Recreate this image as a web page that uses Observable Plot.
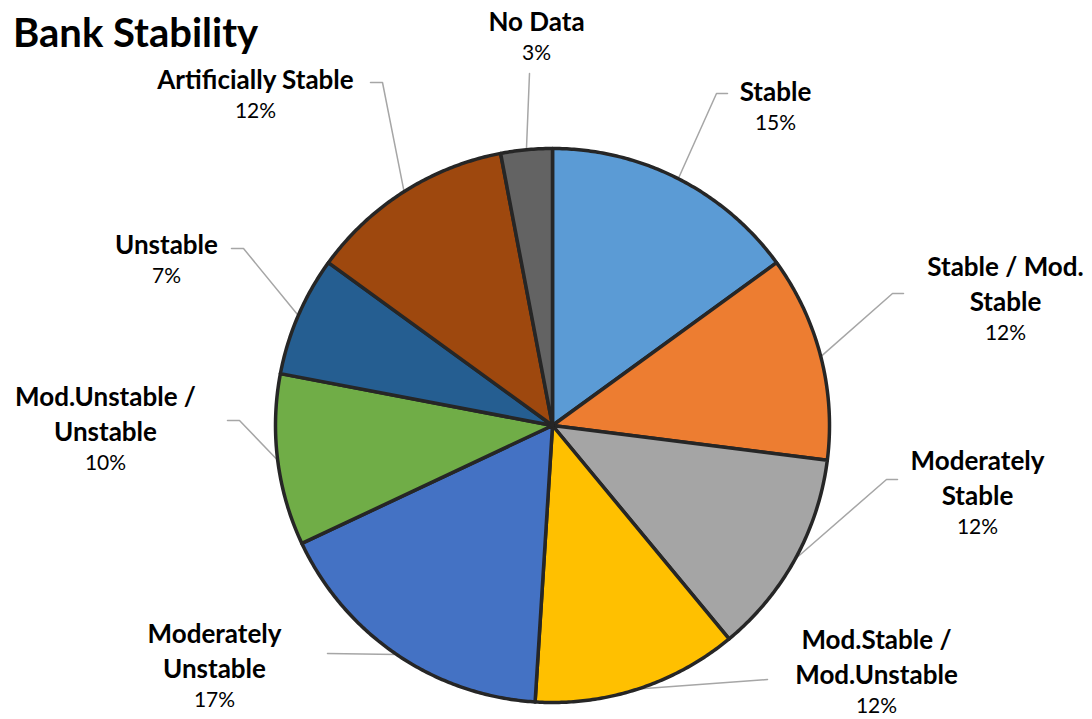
<!DOCTYPE html>
<html>
<head>
<meta charset="utf-8">
<script src="https://cdn.jsdelivr.net/npm/d3@7"></script>
<script src="https://cdn.jsdelivr.net/npm/@observablehq/plot@0.6"></script>
<style>
  html, body { margin: 0; padding: 0; background: #fff; }
  #chart { position: relative; width: 1092px; height: 719px; }
  #title {
    position: absolute; left: 13px; top: 12px; margin: 0;
    font: bold 40px/40px Lato, "Open Sans", sans-serif; color: #000;
  }
</style>
</head>
<body>
<div id="chart">
  <h1 id="title">Bank Stability</h1>
</div>
<script>
// Share of banks by stability rating (percent), clockwise from 12 o'clock
const categories = [
  "Stable",
  "Stable / Mod.\nStable",
  "Moderately\nStable",
  "Mod.Stable /\nMod.Unstable",
  "Moderately\nUnstable",
  "Mod.Unstable /\nUnstable",
  "Unstable",
  "Artificially Stable",
  "No Data"
];
const shares = [15, 12, 12, 12, 17, 10, 7, 12, 3];
const colors = ["#5b9bd5", "#ed7d31", "#a5a5a5", "#ffc000", "#4472c4", "#70ad47", "#255e91", "#9e480e", "#636363"];

// Label placement: centre of the label block, where its leader line ends, and whether it bends
const labelLayout = [
  {x: 775,  y: 92,  end: [727, 93],  elbow: true},
  {x: 1005, y: 267, end: [903, 293], elbow: true},
  {x: 977,  y: 461, end: [897, 479], elbow: true},
  {x: 876,  y: 640, end: [767, 679], elbow: false},
  {x: 214,  y: 634, end: [327, 653], elbow: false},
  {x: 105,  y: 397, end: [227, 420], elbow: true},
  {x: 166,  y: 245, end: [231, 248], elbow: true},
  {x: 255,  y: 80,  end: [370, 82],  elbow: true},
  {x: 536,  y: 22,  end: [529, 73],  elbow: false}
];

const W = 1092, H = 719;
const cx = 552, cy = 425, r = 277;
const nameLine = 35, pctGap = 33;

const rows = categories.map((c, i) => ({name: c, value: shares[i], color: colors[i], i}));
const arcs = d3.pie().sort(null).value(d => d.value)(rows);

// point on the pie at angle a (radians, clockwise from top) and radius rr
const at = (a, rr) => [cx + rr * Math.sin(a), cy - rr * Math.cos(a)];

// slice outlines as closed polygons: centre → arc → centre
const slicePts = [];
for (const a of arcs) {
  const n = Math.max(4, Math.ceil((a.endAngle - a.startAngle) / (Math.PI / 360)));
  slicePts.push({k: a.data.i, p: [cx, cy]});
  for (let j = 0; j <= n; j++) {
    const t = a.startAngle + (a.endAngle - a.startAngle) * j / n;
    slicePts.push({k: a.data.i, p: at(t, r)});
  }
  slicePts.push({k: a.data.i, p: [cx, cy]});
}

// leader lines: arc midpoint → (elbow) → label
const leaderPts = [];
arcs.forEach((a, i) => {
  const L = labelLayout[i];
  const mid = at((a.startAngle + a.endAngle) / 2, r);
  leaderPts.push({k: i, p: mid});
  if (L.elbow) leaderPts.push({k: i, p: [L.end[0] + (L.end[0] < cx ? 12 : -11), L.end[1]]});
  leaderPts.push({k: i, p: L.end});
});

const labels = rows.map((d, i) => {
  const L = labelLayout[i];
  const lines = d.name.split("\n").length;
  return {
    name: d.name,
    pct: d.value + "%",
    x: L.x,
    yName: L.y - 3 + (lines - 1) * nameLine / 2,
    yPct: L.y - 2 + (lines - 1) * nameLine + pctGap
  };
});

const font = "Lato, 'Open Sans', sans-serif";

const plot = Plot.plot({
  width: W,
  height: H,
  margin: 0,
  x: {domain: [0, W], range: [0, W], axis: null},
  y: {domain: [0, H], range: [0, H], axis: null},
  color: {domain: d3.range(categories.length), range: colors},
  style: {fontFamily: font, background: "white"},
  marks: [
    Plot.line(leaderPts, {
      x: d => d.p[0], y: d => d.p[1], z: "k",
      stroke: "#a6a6a6", strokeWidth: 1.5, curve: "linear"
    }),
    Plot.line(slicePts, {
      x: d => d.p[0], y: d => d.p[1], z: "k",
      fill: "k", stroke: "#262626", strokeWidth: 3.5, strokeLinejoin: "round"
    }),
    Plot.text(labels, {
      x: "x", y: "yName", text: "name",
      fontSize: 26, fontWeight: "bold", fill: "#000",
      lineHeight: nameLine / 26, lineAnchor: "middle"
    }),
    Plot.text(labels, {
      x: "x", y: "yPct", text: "pct",
      fontSize: 21, fill: "#000", lineAnchor: "middle"
    })
  ]
});

document.getElementById("chart").appendChild(plot);
</script>
</body>
</html>
